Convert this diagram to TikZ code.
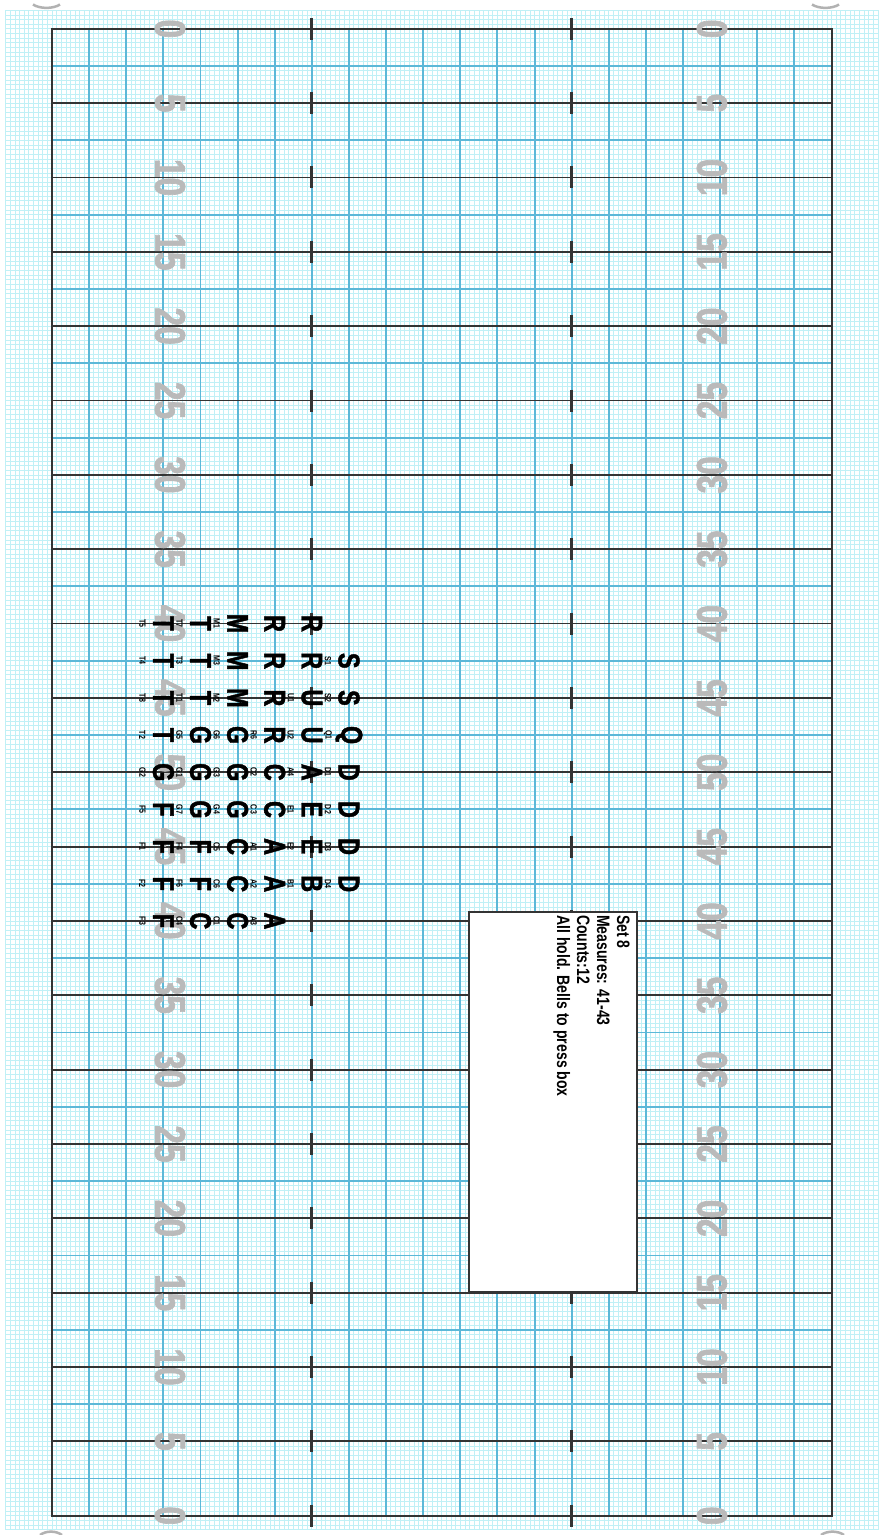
\documentclass[tikz,border=0pt]{standalone}
\usepackage{fontspec}
\setmainfont{Liberation Sans}
\newfontfamily\chartfont{Liberation Sans}[FakeStretch=0.78]
\newfontfamily\heavyfont{Liberation Sans}[FakeStretch=0.78,BoldFeatures={FakeBold=1.5}]
\usepackage{tikz}
\definecolor{finegrid}{RGB}{192,240,246}
\definecolor{stepblue}{RGB}{92,184,216}
\definecolor{yarddark}{RGB}{52,52,52}
\definecolor{yardgray}{RGB}{186,186,186}

\begin{document}
\begin{tikzpicture}[x=1pt,y=-1pt,
  fine/.style={draw=finegrid,line width=0.7pt},
  stepln/.style={draw=stepblue,line width=1.9pt},
  yardln/.style={draw=yarddark,line width=1.8pt},
  hashmk/.style={draw=yarddark,line width=2.8pt},
  yardno/.style={text=yardgray,inner sep=0pt,font=\heavyfont\bfseries\fontsize{43}{43}\selectfont},
  marcher/.style={inner sep=0pt,rotate=-90,font=\heavyfont\bfseries\fontsize{30}{30}\selectfont},
  tag/.style={inner sep=0pt,rotate=-90,font=\chartfont\bfseries\fontsize{9}{9}\selectfont},
  cornerarc/.style={draw=gray!60,line width=2.5pt}]
  \useasboundingbox (0,0) rectangle (882,1535);
  \fill[white] (0,0) rectangle (882,1535);

  % fine grid, half steps
  \foreach \i in {-10,...,178}
    \draw[fine] ({52+\i*4.64},10.2) -- ({52+\i*4.64},1530);
  \foreach \j in {-4,...,323}
    \draw[fine] (5.6,{28.8+\j*4.6466}) -- (878,{28.8+\j*4.6466});

  % field lines
  \foreach \k in {1,...,20}
    \draw[stepln] ({52+\k*37.12},28.8) -- ({52+\k*37.12},1515.7);
  \foreach \j in {0,...,19}
    \draw[stepln] (52,{28.8+(\j+0.5)*74.345}) -- (831.5,{28.8+(\j+0.5)*74.345});
  \foreach \j in {1,...,19}
    \draw[yardln] (52,{28.8+\j*74.345}) -- (831.5,{28.8+\j*74.345});
  \draw[yardln,line width=2pt] (52,28.8) rectangle (831.5,1515.7);

  % hash marks
  \foreach \j in {0,...,20} {
    \draw[hashmk] (311.8,{28.8+\j*74.345-11}) -- (311.8,{28.8+\j*74.345+11});
    \draw[hashmk] (571.7,{28.8+\j*74.345-11}) -- (571.7,{28.8+\j*74.345+11});
  }

  % yard numbers
  \foreach \j in {0,...,20} {
    \pgfmathtruncatemacro\yd{5*min(\j,20-\j)}
    \node[yardno,rotate=-90] (numl-\j) at (170,{28.8+\j*74.345}) {\yd};
    \node[yardno,rotate=90] (numr-\j) at (712,{28.8+\j*74.345}) {\yd};
  }

  % marchers
  \foreach \r/\c/\ltr/\lab in {0/3/T/T5,0/4/T/T7,0/5/M/M1,0/6/R/{},0/7/R/{},
      1/3/T/T4,1/4/T/T3,1/5/M/M3,1/6/R/{},1/7/R/{},1/8/S/S1,
      2/3/T/T8,2/4/T/T1,2/5/M/M2,2/6/R/{},2/7/U/U1,2/8/S/S2,
      3/3/T/T2,3/4/G/G5,3/5/G/G6,3/6/R/R6,3/7/U/U2,3/8/Q/Q1,
      4/3/G/G2,4/4/G/G1,4/5/G/G3,4/6/C/C2,4/7/A/A4,4/8/D/D1,
      5/3/F/F5,5/4/G/G7,5/5/G/G4,5/6/C/C3,5/7/E/E1,5/8/D/D2,
      6/3/F/F1,6/4/F/F4,6/5/C/C5,6/6/A/A1,6/7/E/E2,6/8/D/D3,
      7/3/F/F2,7/4/F/F6,7/5/C/C6,7/6/A/A2,7/7/B/B1,7/8/D/D4,
      8/3/F/F3,8/4/C/C4,8/5/C/C1,8/6/A/A3} {
    \node[marcher] (m-\r-\c) at ({52+37.12*\c},{623.56+37.17*\r}) {\ltr};
    \node[tag] (t-\r-\c) at ({52+37.12*\c-21},{623.56+37.17*\r}) {\lab};
  }

  % set box
  \draw[yarddark,fill=white,line width=1.6pt] (469,912) rectangle (637,1292);
  \node[rotate=-90,anchor=north west,inner sep=0pt,align=left,
    font=\chartfont\bfseries\fontsize{18}{20}\selectfont] (setinfo) at (630,915)
    {Set 8\\Measures: 41-43\\Counts:12\\All hold. Bells to press box};

  % page corners
  \draw[cornerarc] (33,4.5) .. controls (40,9) and (53,9) .. (60,4.5);
  \draw[cornerarc] (812,4.5) .. controls (819,9) and (832,9) .. (839,4.5);
  \draw[cornerarc] (40,1535) .. controls (46,1530.5) and (56,1530.5) .. (62,1535);
  \draw[cornerarc] (821,1535) .. controls (827,1530.5) and (838,1530.5) .. (844,1535);
\end{tikzpicture}
\end{document}
